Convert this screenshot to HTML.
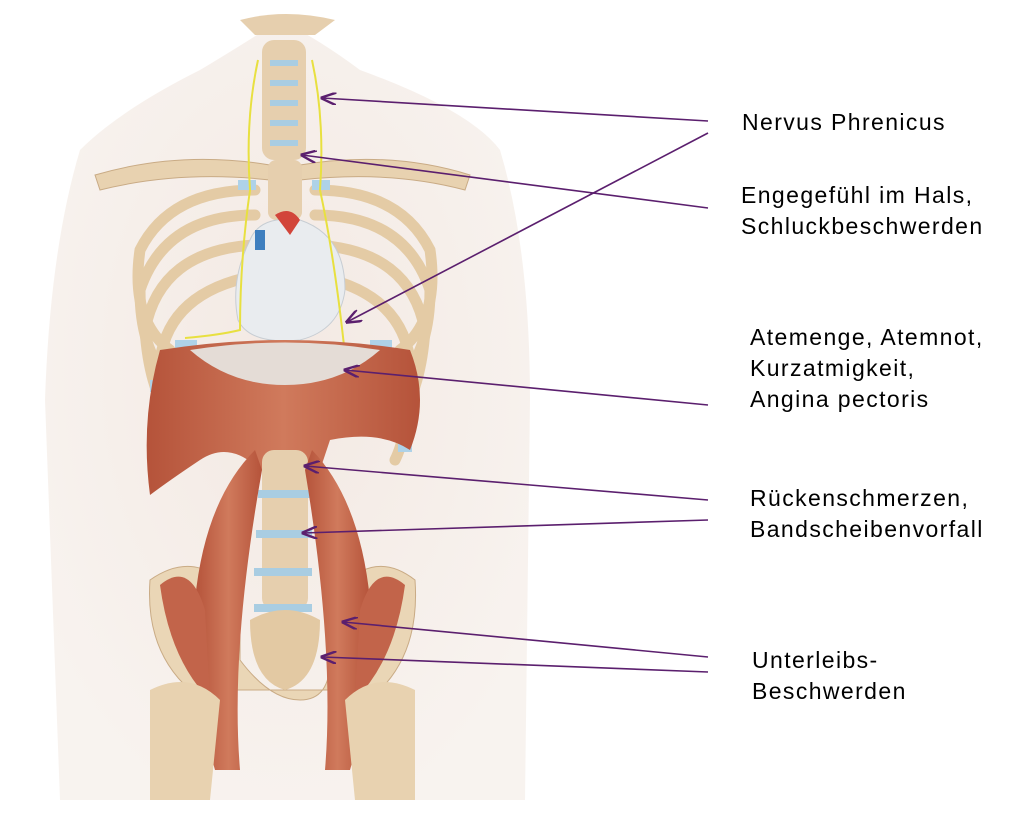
<!DOCTYPE html>
<html><head><meta charset="utf-8"><style>
html,body{margin:0;padding:0;background:#fff;width:1024px;height:813px;overflow:hidden}
.t{position:absolute;font-family:"Liberation Sans",sans-serif;font-size:23px;letter-spacing:1.4px;color:#000;line-height:31px;white-space:nowrap}
</style></head><body>
<svg width="1024" height="813" style="position:absolute;left:0;top:0">
<defs>
<radialGradient id="bg" cx="0.5" cy="0.45" r="0.6"><stop offset="0" stop-color="#f3e9e3"/><stop offset="1" stop-color="#f8f3ef"/></radialGradient>
<linearGradient id="mus" x1="0" x2="1"><stop offset="0" stop-color="#b5533a"/><stop offset="0.5" stop-color="#d07a5c"/><stop offset="1" stop-color="#b5533a"/></linearGradient>
</defs>
<path d="M200 70 Q250 40 280 20 Q320 40 360 70 Q470 110 500 150 Q530 250 530 400 L525 800 L60 800 L45 400 Q50 250 80 150 Q120 110 200 70Z" fill="url(#bg)"/>
<rect x="262" y="40" width="44" height="120" rx="12" fill="#e6cfae"/>
<g fill="#a9cde2"><rect x="270" y="60" width="28" height="6"/><rect x="270" y="80" width="28" height="6"/><rect x="270" y="100" width="28" height="6"/><rect x="270" y="120" width="28" height="6"/><rect x="270" y="140" width="28" height="6"/></g>
<path d="M240 20 Q285 8 335 20 L315 35 L255 35Z" fill="#e6cfae"/>
<path d="M95 175 Q180 150 270 165 L270 180 Q180 170 100 190Z" fill="#e8d2b0" stroke="#c9ab85"/>
<path d="M470 175 Q390 150 300 165 L300 180 Q390 170 465 190Z" fill="#e8d2b0" stroke="#c9ab85"/>
<g fill="none" stroke="#e4cba5" stroke-width="11" stroke-linecap="round">
<path d="M255 190 Q170 190 140 250 Q130 320 170 350"/>
<path d="M255 215 Q165 215 140 290 Q140 360 180 390"/>
<path d="M255 245 Q160 250 145 330 Q150 400 180 430"/>
<path d="M260 275 Q170 290 160 360 Q160 430 175 460"/>
<path d="M315 190 Q400 190 430 250 Q440 320 400 350"/>
<path d="M315 215 Q405 215 430 290 Q430 360 390 390"/>
<path d="M315 245 Q410 250 425 330 Q420 400 390 430"/>
<path d="M310 275 Q400 290 410 360 Q410 430 395 460"/>
</g>
<g fill="#aed2e8"><rect x="238" y="180" width="18" height="10"/><rect x="312" y="180" width="18" height="10"/><rect x="175" y="340" width="22" height="12"/><rect x="370" y="340" width="22" height="12"/><rect x="150" y="380" width="16" height="12"/><rect x="400" y="380" width="16" height="12"/><rect x="152" y="440" width="14" height="12"/><rect x="398" y="440" width="14" height="12"/></g>
<rect x="268" y="160" width="34" height="60" rx="8" fill="#e6cfae"/>
<path d="M250 240 Q260 215 300 220 Q345 235 345 290 Q340 330 300 340 Q250 345 238 320 Q230 280 250 240Z" fill="#e9ecef" stroke="#c7cdd3"/>
<path d="M275 215 Q290 205 300 220 L290 235Z" fill="#d2453a"/>
<rect x="255" y="230" width="10" height="20" fill="#3f7fbf"/>
<g fill="none" stroke="#e8e040" stroke-width="2"><path d="M258 60 Q245 120 250 190 Q240 260 240 330 Q220 335 185 338"/><path d="M312 60 Q325 120 320 190 Q335 260 345 355 Q365 360 385 360"/></g>
<path d="M160 350 Q285 330 410 350 Q430 400 410 450 Q380 430 330 440 L320 470 L260 470 Q230 440 200 460 Q170 480 150 495 Q140 420 160 350Z" fill="url(#mus)"/>
<path d="M190 350 Q285 335 380 350 Q340 385 285 385 Q230 385 190 350Z" fill="#e4dcd6"/>
<rect x="262" y="450" width="46" height="160" rx="12" fill="#e6cfae"/>
<g fill="#a9cde2"><rect x="258" y="490" width="52" height="8"/><rect x="256" y="530" width="56" height="8"/><rect x="254" y="568" width="58" height="8"/><rect x="254" y="604" width="58" height="8"/></g>
<path d="M150 580 Q200 545 240 600 L240 660 Q270 700 300 700 Q330 700 330 660 L330 600 Q370 545 415 580 Q420 650 380 690 L190 690 Q145 650 150 580Z" fill="#ead6b6" stroke="#c9ab85"/>
<path d="M250 620 Q285 600 320 620 Q320 680 285 690 Q250 680 250 620Z" fill="#e3c9a3"/>
<path d="M255 450 Q205 500 195 600 Q195 700 215 770 L240 770 Q230 650 262 470Z" fill="url(#mus)"/>
<path d="M312 450 Q360 500 370 600 Q370 700 350 770 L325 770 Q335 650 305 470Z" fill="url(#mus)"/>
<path d="M160 585 Q190 560 205 610 L210 700 Q170 660 160 585Z" fill="#c2644a"/>
<path d="M405 585 Q375 560 360 610 L355 700 Q395 660 405 585Z" fill="#c2644a"/>
<path d="M150 690 Q190 670 220 700 L210 800 L150 800Z" fill="#e8d2b0"/>
<path d="M415 690 Q375 670 345 700 L355 800 L415 800Z" fill="#e8d2b0"/>
<defs><marker id="a" markerWidth="10" markerHeight="8" refX="9" refY="4" orient="auto"><path d="M0 0 L10 4 L0 8" fill="none" stroke="#5b1f6e" stroke-width="1.5"/></marker></defs>
<g stroke="#5b1f6e" stroke-width="1.6" marker-end="url(#a)">
<line x1="708" y1="121" x2="322" y2="98"/>
<line x1="708" y1="133" x2="347" y2="322"/>
<line x1="708" y1="208" x2="302" y2="155"/>
<line x1="708" y1="405" x2="345" y2="370"/>
<line x1="708" y1="500" x2="305" y2="466"/>
<line x1="708" y1="520" x2="303" y2="533"/>
<line x1="708" y1="657" x2="343" y2="622"/>
<line x1="708" y1="672" x2="322" y2="657"/>
</g>
</svg>
<div class="t" style="left:742px;top:107px">Nervus Phrenicus</div>
<div class="t" style="left:741px;top:180px">Engegefühl im Hals,<br>Schluckbeschwerden</div>
<div class="t" style="left:750px;top:322px">Atemenge, Atemnot,<br>Kurzatmigkeit,<br>Angina pectoris</div>
<div class="t" style="left:750px;top:483px">Rückenschmerzen,<br>Bandscheibenvorfall</div>
<div class="t" style="left:752px;top:645px">Unterleibs-<br>Beschwerden</div>
</body></html>
